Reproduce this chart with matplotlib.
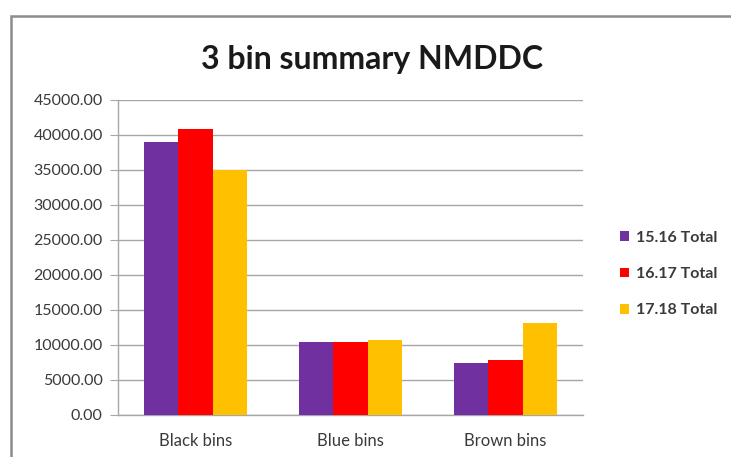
import matplotlib.pyplot as plt
import numpy as np
from matplotlib.patches import Rectangle

# Bin totals per year
categories = ['Black bins', 'Blue bins', 'Brown bins']
series_names = ['15.16 Total', '16.17 Total', '17.18 Total']
totals_1516 = [38900, 10400, 7400]
totals_1617 = [40800, 10400, 7800]
totals_1718 = [34900, 10700, 13100]
colors = ['#7030A0', '#FF0000', '#FFC000']

plt.rcParams['font.family'] = ['Lato', 'DejaVu Sans']

fig = plt.figure(figsize=(7.31, 4.57), dpi=100)
fig.patch.set_facecolor('white')

# Chart frame
fig.patches.append(Rectangle((11 / 731, -0.1), 1.2, (457 - 16) / 457 + 0.1,
                             transform=fig.transFigure, fill=False,
                             edgecolor='#8c8c8c', linewidth=1.8))

ax = fig.add_axes([118 / 731, 1 - 415 / 457, 465 / 731, 315.5 / 457])

x = np.arange(len(categories))
width = 0.223
for i, (vals, name) in enumerate(zip([totals_1516, totals_1617, totals_1718], series_names)):
    ax.bar(x + (i - 1) * width, vals, width, color=colors[i], label=name, zorder=3)

ax.set_xlim(-0.5, 2.5)
ax.set_ylim(0, 45000)
ax.set_yticks(np.arange(0, 45001, 5000))
ax.set_yticklabels([f'{v:.2f}' for v in np.arange(0, 45001, 5000)])
ax.set_xticks(x)
ax.set_xticklabels(categories)

ax.grid(axis='y', color='#a6a6a6', linewidth=1, zorder=0)
for side in ['top', 'right']:
    ax.spines[side].set_visible(False)
for side in ['left', 'bottom']:
    ax.spines[side].set_color('#a6a6a6')
    ax.spines[side].set_linewidth(1)
ax.tick_params(axis='y', length=6, color='#a6a6a6', labelsize=11.5, labelcolor='#3a3a3a', pad=5)
ax.tick_params(axis='x', length=0, labelsize=12, labelcolor='#3a3a3a', pad=13)

fig.text(372 / 731, 1 - 60 / 457, '3 bin summary NMDDC', ha='center', va='center',
         fontsize=23, fontweight='bold', color='#1a1a1a')

ax.legend(loc='center left', bbox_to_anchor=(606 / 731, 1 - 274 / 457),
          bbox_transform=fig.transFigure, frameon=False,
          handlelength=0.55, handleheight=0.55, handletextpad=0.4, labelspacing=1.4,
          labelcolor='#3a3a3a', prop={'weight': 'bold', 'size': 11.5})

fig.savefig('out.png', dpi=100)
